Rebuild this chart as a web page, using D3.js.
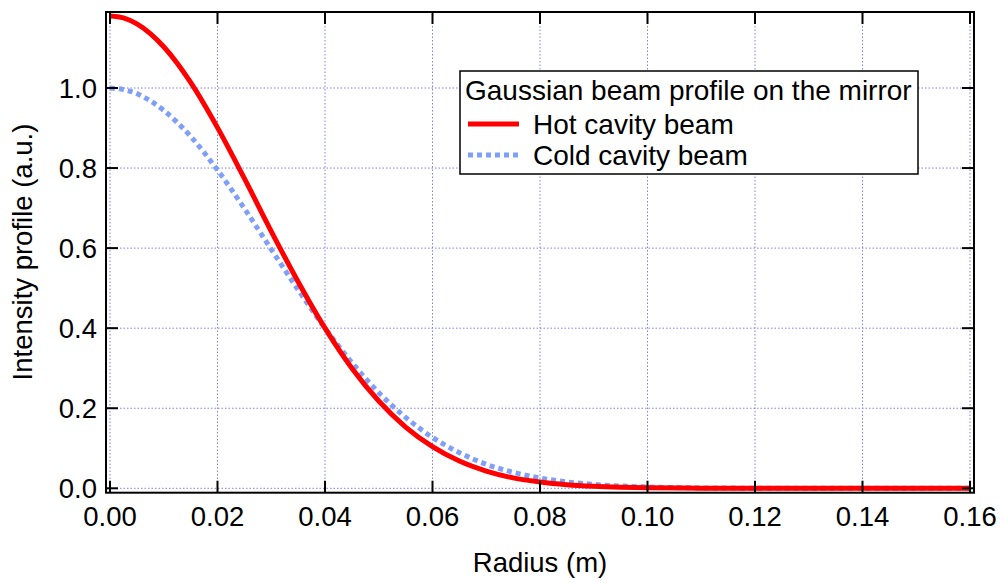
<!DOCTYPE html>
<html>
<head>
<meta charset="utf-8">
<script src="https://cdn.jsdelivr.net/npm/d3@7"></script>
<style>
  html, body { margin: 0; padding: 0; background: #fff; }
  svg { display: block; }
  text { font-family: "Liberation Sans", Arial, Helvetica, sans-serif; fill: #000; }
</style>
</head>
<body>
<svg id="chart" width="1002" height="583"></svg>
<script>
// ---- data ----
const radius = [0, 0.0025, 0.005, 0.0075, 0.01, 0.0125, 0.015, 0.02, 0.025, 0.03, 0.035, 0.04, 0.045, 0.05, 0.055, 0.06, 0.065, 0.07, 0.075, 0.08, 0.085, 0.09, 0.095, 0.10, 0.11, 0.12, 0.13, 0.14, 0.15, 0.16];
const hotBeam = [1.180, 1.175, 1.160, 1.136, 1.103, 1.062, 1.014, 0.901, 0.774, 0.642, 0.516, 0.400, 0.300, 0.218, 0.153, 0.104, 0.068, 0.043, 0.026, 0.0156, 0.0089, 0.0050, 0.0027, 0.0014, 0.0003, 0.0001, 0, 0, 0, 0];
const coldBeam = [1.000, 0.996, 0.986, 0.968, 0.944, 0.914, 0.879, 0.795, 0.699, 0.597, 0.496, 0.400, 0.314, 0.239, 0.177, 0.127, 0.089, 0.060, 0.040, 0.0256, 0.0160, 0.0097, 0.0057, 0.0033, 0.0010, 0.0003, 0, 0, 0, 0];
const xTicks = [0, 0.02, 0.04, 0.06, 0.08, 0.10, 0.12, 0.14, 0.16];
const yTicks = [0.0, 0.2, 0.4, 0.6, 0.8, 1.0];
const legendTitle = "Gaussian beam profile on the mirror";
const seriesNames = ["Hot cavity beam", "Cold cavity beam"];
const xTitle = "Radius (m)";
const yTitle = "Intensity profile (a.u.)";

// ---- layout ----
const svg = d3.select("#chart");
const frame = { left: 106, right: 974, top: 12, bottom: 492.7 };
const x = d3.scaleLinear().domain([0, 0.16]).range([110, 970]);
const y = d3.scaleLinear().domain([0, 1]).range([488.3, 88]);
const FONT = 27.5;
const LFONT = 28;

// grid
const grid = svg.append("g");
grid.selectAll(".gx").data(xTicks).join("line")
  .attr("x1", d => x(d)).attr("x2", d => x(d))
  .attr("y1", frame.top).attr("y2", frame.bottom)
  .attr("stroke", "#7d7dff").attr("stroke-width", 1).attr("stroke-dasharray", "1.5,2");
grid.selectAll(".gy").data(yTicks).join("line")
  .attr("y1", d => y(d)).attr("y2", d => y(d))
  .attr("x1", frame.left).attr("x2", frame.right)
  .attr("stroke", "#7d7dff").attr("stroke-width", 1).attr("stroke-dasharray", "1.5,2");

// curves
const hot = radius.map((r, i) => [r, hotBeam[i]]);
const cold = radius.map((r, i) => [r, coldBeam[i]]);
const line = d3.line().x(d => x(d[0])).y(d => y(d[1])).curve(d3.curveMonotoneX);

svg.append("path").datum(cold).attr("d", line)
  .attr("fill", "none").attr("stroke", "#7f9ff8").attr("stroke-width", 5)
  .attr("stroke-dasharray", "5,4");
svg.append("path").datum(hot).attr("d", line)
  .attr("fill", "none").attr("stroke", "#ff0000").attr("stroke-width", 5);

// frame
svg.append("rect")
  .attr("x", frame.left).attr("y", frame.top)
  .attr("width", frame.right - frame.left).attr("height", frame.bottom - frame.top)
  .attr("fill", "none").attr("stroke", "#000").attr("stroke-width", 2);

// ticks
const TL = 12;
const ticks = svg.append("g").attr("stroke", "#000").attr("stroke-width", 2);
ticks.selectAll(".tb").data(xTicks).join("line")
  .attr("x1", d => x(d)).attr("x2", d => x(d))
  .attr("y1", frame.bottom).attr("y2", frame.bottom - TL);
ticks.selectAll(".tt").data(xTicks).join("line")
  .attr("x1", d => x(d)).attr("x2", d => x(d))
  .attr("y1", frame.top).attr("y2", frame.top + TL);
ticks.selectAll(".tl").data(yTicks).join("line")
  .attr("y1", d => y(d)).attr("y2", d => y(d))
  .attr("x1", frame.left).attr("x2", frame.left + TL);
ticks.selectAll(".tr").data(yTicks).join("line")
  .attr("y1", d => y(d)).attr("y2", d => y(d))
  .attr("x1", frame.right).attr("x2", frame.right - TL);

// tick labels
svg.selectAll(".xl").data(xTicks).join("text")
  .attr("x", d => x(d)).attr("y", 526)
  .attr("text-anchor", "middle").attr("font-size", FONT)
  .text(d => d3.format(".2f")(d));
svg.selectAll(".yl").data(yTicks).join("text")
  .attr("x", 97).attr("y", d => y(d)).attr("dy", "0.35em")
  .attr("text-anchor", "end").attr("font-size", FONT)
  .text(d => d3.format(".1f")(d));

// axis titles
svg.append("text").attr("x", 540).attr("y", 572)
  .attr("text-anchor", "middle").attr("font-size", FONT).text(xTitle);
svg.append("text")
  .attr("transform", "translate(32,252) rotate(-90)")
  .attr("text-anchor", "middle").attr("font-size", FONT).text(yTitle);

// legend
const lg = svg.append("g");
lg.append("rect").attr("x", 460).attr("y", 71).attr("width", 458).attr("height", 103)
  .attr("fill", "#fff").attr("stroke", "#000").attr("stroke-width", 1.5);
lg.append("text").attr("x", 465).attr("y", 99.5).attr("font-size", LFONT).text(legendTitle);
const legendStyles = [
  { color: "#ff0000", dash: null },
  { color: "#7f9ff8", dash: "5,4" }
];
const legendY = [124, 155];
seriesNames.forEach((name, i) => {
  lg.append("line").attr("x1", 468).attr("x2", 519)
    .attr("y1", legendY[i]).attr("y2", legendY[i])
    .attr("stroke", legendStyles[i].color).attr("stroke-width", 5)
    .attr("stroke-dasharray", legendStyles[i].dash);
  lg.append("text").attr("x", 533).attr("y", legendY[i] + 9.5)
    .attr("font-size", LFONT).text(name);
});
</script>
</body>
</html>
